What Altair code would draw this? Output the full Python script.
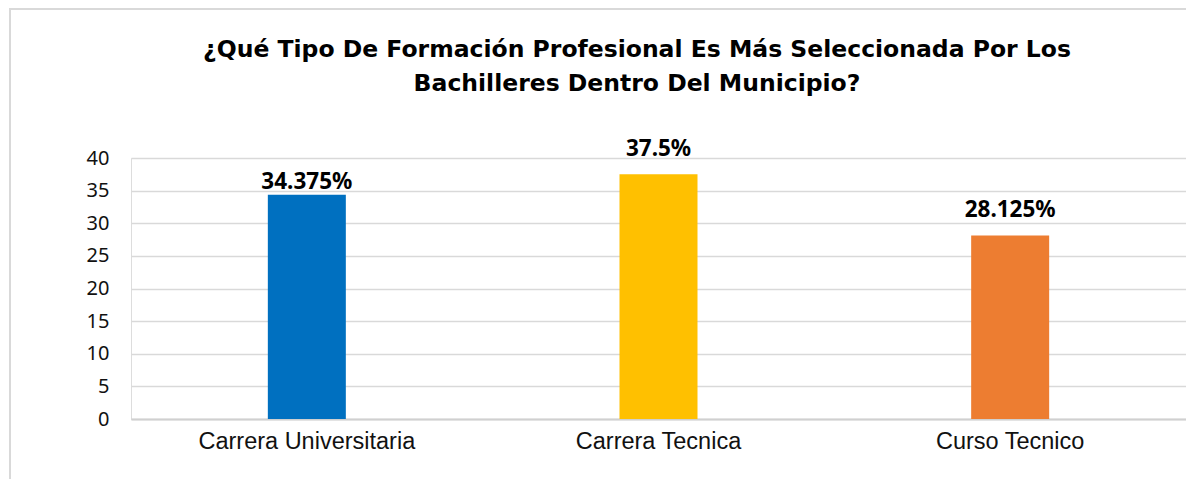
import altair as alt
import pandas as pd

categories = ["Carrera Universitaria", "Carrera Tecnica", "Curso Tecnico"]
values = [34.375, 37.5, 28.125]
labels = ["34.375%", "37.5%", "28.125%"]
colors = ["#0070C0", "#FFC000", "#ED7D31"]
title_lines = ["¿Qué Tipo De Formación Profesional Es Más Seleccionada Por Los",
               "Bachilleres Dentro Del Municipio?"]

df = pd.DataFrame({"cat": categories, "val": values, "lab": labels, "col": colors})

x = alt.X("cat:N", sort=categories, title=None,
          scale=alt.Scale(paddingInner=0.778, paddingOuter=0.389),
          axis=alt.Axis(labelAngle=0, labelFont="Liberation Sans", labelFontSize=23.5,
                        labelColor="#111111", labelPadding=10, ticks=False, labelLimit=0,
                        domainColor="#d0d0d0", domainWidth=2))
y = alt.Y("val:Q", title=None,
          scale=alt.Scale(domain=[0, 40], nice=False),
          axis=alt.Axis(values=[0, 5, 10, 15, 20, 25, 30, 35, 40], ticks=False, domain=False,
                        labelFont="Noto Sans", labelFontSize=20, labelColor="#111111",
                        labelPadding=22, gridColor="#d9d9d9", gridWidth=1.5))

bars = alt.Chart(df).mark_bar(size=78).encode(
    x=x, y=y, color=alt.Color("col:N", scale=None))

label_style = dict(baseline="alphabetic", fontSize=22.5, fontWeight="bold", font="Noto Sans",
                   color="#000000")
text_first = alt.Chart(df).transform_filter(alt.datum.cat == categories[0]).mark_text(
    dy=-6, **label_style).encode(x=x, y=y, text="lab:N")

text_rest = alt.Chart(df).transform_filter(alt.datum.cat != categories[0]).mark_text(
    dy=-18, **label_style).encode(x=x, y=y, text="lab:N")

frame = alt.Chart(df).mark_rect(fill=None, stroke="#d9d9d9", strokeWidth=2).encode(
    x=alt.value(-121), x2=alt.value(1200), y=alt.value(-149), y2=alt.value(500))

title_style = dict(font="DejaVu Sans", fontSize=23.5, fontWeight="bold", color="#000000",
                   align="center", baseline="middle")
title1 = alt.Chart(df).transform_filter(alt.datum.cat == categories[0]).mark_text(**title_style).encode(
    x=alt.value(506), y=alt.value(-108), text=alt.value(title_lines[0]))
title2 = alt.Chart(df).transform_filter(alt.datum.cat == categories[0]).mark_text(**title_style).encode(
    x=alt.value(506), y=alt.value(-74), text=alt.value(title_lines[1]))

chart = alt.layer(frame, bars, text_first, text_rest, title1, title2).properties(
    width=1055, height=261,
    autosize=alt.AutoSizeParams(type="none"),
    padding={"left": 123, "top": 150, "right": 0, "bottom": 60},
).configure_view(stroke=None).configure(background="white")

chart.save("out.html", embed_options={"renderer": "svg", "actions": False})
